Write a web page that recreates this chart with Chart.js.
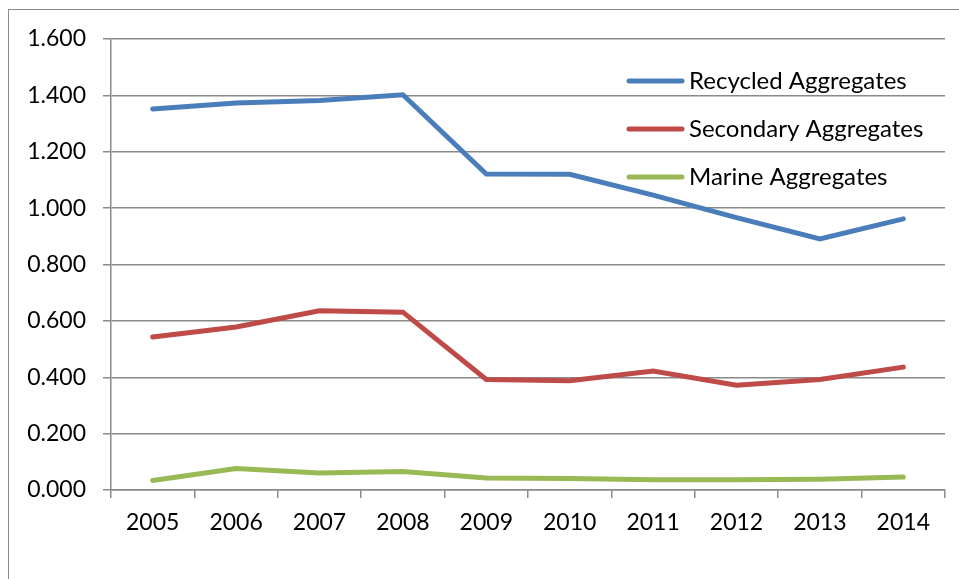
<!DOCTYPE html>
<html>
<head>
<meta charset="utf-8">
<script src="https://cdn.jsdelivr.net/npm/chart.js@4"></script>
<style>
    html, body { margin: 0; padding: 0; background: #fff; overflow: hidden; }
    #wrap { position: relative; width: 959px; height: 579px; }
    #frame {
        position: absolute; left: 8px; top: 9px;
        width: 2000px; height: 2000px;
        border: 1.5px solid #8c8c8c;
    }
    #chart { position: absolute; left: 0; top: 0; }
</style>
</head>
<body>
<div id="wrap">
    <div id="frame"></div>
    <canvas id="chart" width="959" height="579"></canvas>
</div>
<script>
// Chart data
const years = ['2005', '2006', '2007', '2008', '2009', '2010', '2011', '2012', '2013', '2014'];
const recycled = [1.352, 1.373, 1.382, 1.402, 1.121, 1.120, 1.046, 0.966, 0.891, 0.962];
const secondary = [0.543, 0.578, 0.636, 0.631, 0.392, 0.388, 0.422, 0.372, 0.392, 0.436];
const marine = [0.034, 0.076, 0.060, 0.066, 0.043, 0.041, 0.036, 0.036, 0.038, 0.046];
const yTickLabels = ['0.000', '0.200', '0.400', '0.600', '0.800', '1.000', '1.200', '1.400', '1.600'];
const seriesNames = ['Recycled Aggregates', 'Secondary Aggregates', 'Marine Aggregates'];
const seriesColors = ['#4A7EBB', '#BE4B48', '#98B954'];

const FONT = 'Lato, "Open Sans", sans-serif';
const GRID = '#8a8a8a';

// Legend drawn inside the plot area, top right
const insideLegend = {
    id: 'insideLegend',
    afterDatasetsDraw(chart) {
        const ctx = chart.ctx;
        const area = chart.chartArea;
        const x0 = area.right - 316;
        ctx.save();
        ctx.font = '24px ' + FONT;
        ctx.textBaseline = 'middle';
        ctx.fillStyle = '#000';
        chart.data.datasets.forEach((ds, i) => {
            const y = area.top + 42 + i * 48;
            ctx.strokeStyle = ds.borderColor;
            ctx.lineWidth = 5;
            ctx.lineCap = 'round';
            ctx.beginPath();
            ctx.moveTo(x0, y);
            ctx.lineTo(x0 + 53, y);
            ctx.stroke();
            ctx.fillText(ds.label, x0 + 60, y);
        });
        ctx.restore();
    }
};

const datasets = [recycled, secondary, marine].map((values, i) => ({
    label: seriesNames[i],
    data: values,
    borderColor: seriesColors[i],
    backgroundColor: seriesColors[i],
    borderWidth: 5,
    borderCapStyle: 'round',
    pointRadius: 0,
    tension: 0,
    fill: false
}));

new Chart(document.getElementById('chart'), {
    type: 'line',
    data: { labels: years, datasets: datasets },
    plugins: [insideLegend],
    options: {
        responsive: false,
        animation: false,
        layout: { padding: { top: 39, right: 14, bottom: 0, left: 0 } },
        plugins: {
            legend: { display: false },
            tooltip: { enabled: false }
        },
        scales: {
            x: {
                offset: true,
                grid: {
                    offset: true,
                    drawOnChartArea: false,
                    drawTicks: true,
                    tickLength: 8,
                    color: GRID,
                    lineWidth: 1.5
                },
                border: { display: true, color: GRID, width: 1.5 },
                ticks: {
                    color: '#000',
                    font: { family: FONT, size: 23 },
                    padding: 11,
                    maxRotation: 0
                },
                afterFit(scale) { scale.height = 89; }
            },
            y: {
                min: 0,
                max: 1.6,
                grid: {
                    color: GRID,
                    lineWidth: 1.5,
                    drawTicks: true,
                    tickLength: 8
                },
                border: { display: true, color: GRID, width: 1.5 },
                ticks: {
                    stepSize: 0.2,
                    color: '#000',
                    font: { family: FONT, size: 23 },
                    padding: 17,
                    callback: (value, index) => yTickLabels[index]
                },
                afterFit(scale) { scale.width = 111; }
            }
        }
    }
});
</script>
</body>
</html>
